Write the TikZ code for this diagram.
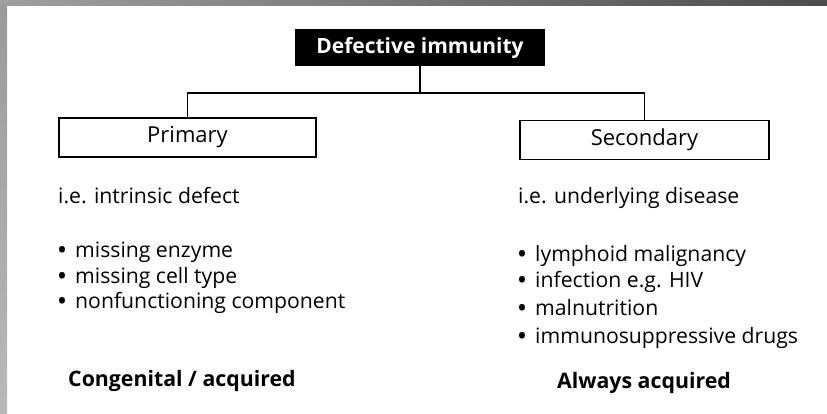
\documentclass[tikz,border=0pt]{standalone}
\usepackage{fontspec}
\setmainfont{Open Sans}
\newcommand{\dotitem}{\makebox[17pt][l]{\bfseries •}}
\tikzset{
  headbox/.style={fill=black, text=white, inner sep=0pt, minimum width=250pt, minimum height=37pt,
    font=\bfseries\fontsize{21}{25}\selectfont},
  kindbox/.style={draw, line width=1.1pt, inner sep=0pt, minimum height=39pt,
    font=\fontsize{22}{26}\selectfont},
  note/.style={anchor=base west, inner sep=0pt, font=\fontsize{21.2}{25}\selectfont},
  origin/.style={anchor=base west, inner sep=0pt, font=\bfseries\fontsize{21.3}{25}\selectfont},
}
\begin{document}
\begin{tikzpicture}[x=1pt, y=-1pt]
    \useasboundingbox (0,0) rectangle (827,413);
    % slide frame
    \shade[top color=gray!80, bottom color=gray!55] (0,0) rectangle (7,413);
    \shade[left color=gray!75, right color=black!70] (0,0) rectangle (827,5);

    \node[headbox] (defect) at (420,47.5) {Defective immunity};
    \node[kindbox, minimum width=257pt] (primary) at (187.5,137.5) {Primary};
    \node[kindbox, minimum width=249pt] (secondary) at (644.5,140) {Secondary};
    \coordinate (split) at (420,93);
    \draw[line width=1.1pt] (defect.south) -- (split);
    \draw[line width=1.1pt] (primary.north) |- (split) -| (secondary.north);

    % primary side
    \node[note] (intrinsic) at (58,203) {i.e. intrinsic defect};
    \node[note] (enzyme) at (58,257) {\dotitem missing enzyme};
    \node[note] (celltype) at (58,283) {\dotitem missing cell type};
    \node[note] (component) at (58,308) {\dotitem nonfunctioning component};
    \node[origin] (congenital) at (68,386) {Congenital / acquired};

    % secondary side
    \node[note] (underlying) at (518,203) {i.e. underlying disease};
    \node[note] (lymphoid) at (518,261) {\dotitem lymphoid malignancy};
    \node[note] (infection) at (518,287) {\dotitem infection e.g. HIV};
    \node[note] (malnutrition) at (518,315) {\dotitem malnutrition};
    \node[note] (drugs) at (518,343) {\dotitem immunosuppressive drugs};
    \node[origin] (always) at (557,388) {Always acquired};
\end{tikzpicture}
\end{document}
